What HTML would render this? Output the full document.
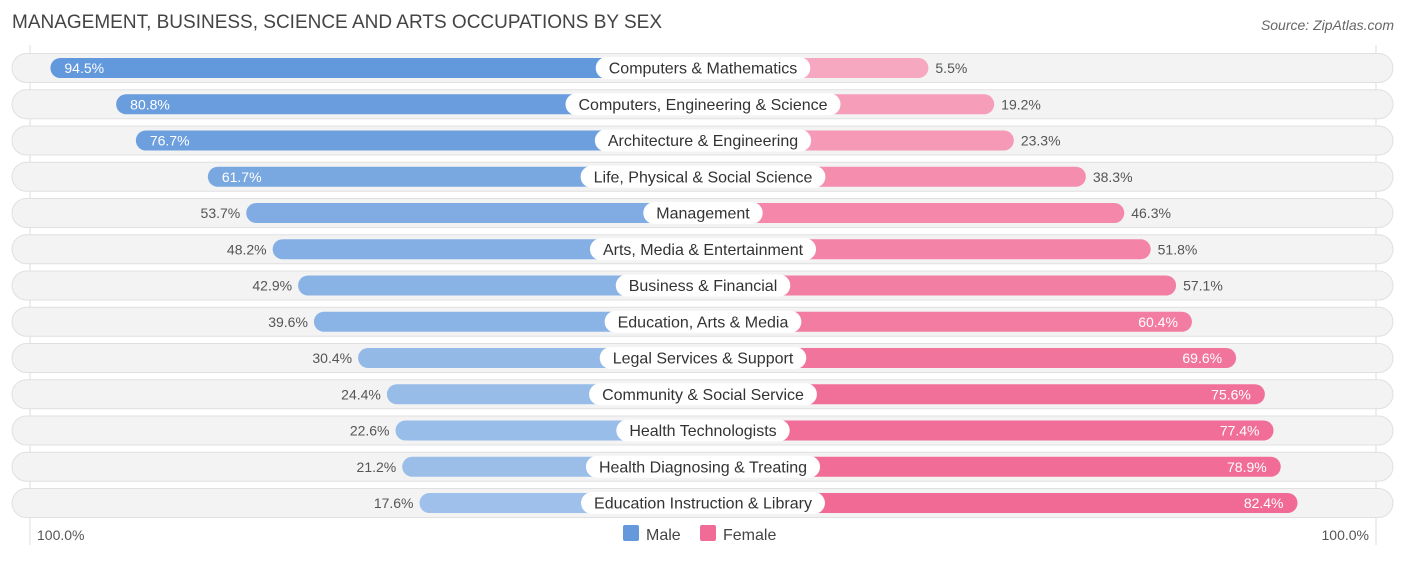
<!DOCTYPE html>
<html><head><meta charset="utf-8"><style>
body{margin:0;background:#fff;font-family:"Liberation Sans",sans-serif;}
svg text{font-family:"Liberation Sans",sans-serif;}
</style></head><body>
<svg id="chart" width="1406" height="559" xmlns="http://www.w3.org/2000/svg">
<text x="12" y="28" font-size="19" fill="#444">MANAGEMENT, BUSINESS, SCIENCE AND ARTS OCCUPATIONS BY SEX</text>
<text x="1394" y="30" font-size="14" fill="#666" text-anchor="end" font-style="italic">Source: ZipAtlas.com</text>
<line x1="30" y1="45" x2="30" y2="545" stroke="#ddd"/>
<line x1="1376" y1="45" x2="1376" y2="545" stroke="#ddd"/>
<g id="rows"></g>
<text x="37" y="540" font-size="14" fill="#555">100.0%</text>
<text x="1369" y="540" font-size="14" fill="#555" text-anchor="end">100.0%</text>
<g>
<rect x="623" y="525" width="16" height="16" rx="2" fill="#6499dc"/>
<text x="646" y="540" font-size="16" fill="#444">Male</text>
<rect x="700" y="525" width="16" height="16" rx="2" fill="#f06b96"/>
<text x="723" y="540" font-size="16" fill="#444">Female</text>
</g>
</svg>
<script>
const categories=["Computers & Mathematics","Computers, Engineering & Science","Architecture & Engineering","Life, Physical & Social Science","Management","Arts, Media & Entertainment","Business & Financial","Education, Arts & Media","Legal Services & Support","Community & Social Service","Health Technologists","Health Diagnosing & Treating","Education Instruction & Library"];
const maleValues=[94.5,80.8,76.7,61.7,53.7,48.2,42.9,39.6,30.4,24.4,22.6,21.2,17.6];
const femaleValues=[5.5,19.2,23.3,38.3,46.3,51.8,57.1,60.4,69.6,75.6,77.4,78.9,82.4];
const NS="http://www.w3.org/2000/svg";
const cx=703, maleZero=504, femaleZero=902, k=4.8, y0=68, step=36.25;
const xMale=v=>maleZero-k*v, xFemale=v=>femaleZero+k*v;
function mix(a,b,t){return "rgb("+a.map((c,i)=>Math.round(c+(b[i]-c)*t)).join(",")+")";}
const g=document.getElementById("rows");
function mk(tag,attrs){const e=document.createElementNS(NS,tag);for(const k in attrs)e.setAttribute(k,attrs[k]);return e;}
categories.forEach((c,i)=>{
 const y=y0+i*step;
 const bg=mk("rect",{x:12,y:y-14.5,width:1381,height:29,rx:14.5,fill:"#f3f3f3",stroke:"#e0e0e0"});
 
 
 g.appendChild(bg);
 const m=maleValues[i], f=femaleValues[i];
 const mx=xMale(m);
 const mb=mk("rect",{x:mx,y:y-10,width:cx-mx,height:20,rx:10,fill:mix([172,202,237],[98,152,220],Math.min(1,m/90))});
 
 
 g.appendChild(mb);
 const fx=xFemale(f);
 const fb=mk("rect",{x:cx,y:y-10,width:fx-cx,height:20,rx:10,fill:mix([248,172,196],[240,104,148],Math.min(1,f/85))});
 
 
 g.appendChild(fb);
 const mt=mk("text",{y:y+5,"font-size":14});
 if(m>=60){mt.setAttribute("x",mx+14);mt.setAttribute("fill","#fff");}
 else{mt.setAttribute("x",mx-6);mt.setAttribute("text-anchor","end");mt.setAttribute("fill","#555");}
 mt.textContent=m.toFixed(1)+"%";
 
 
 g.appendChild(mt);
 const ft=mk("text",{y:y+5,"font-size":14});
 if(f>=60){ft.setAttribute("x",fx-14);ft.setAttribute("text-anchor","end");ft.setAttribute("fill","#fff");}
 else{ft.setAttribute("x",fx+7);ft.setAttribute("fill","#555");}
 ft.textContent=f.toFixed(1)+"%";
 
 
 g.appendChild(ft);
 const lt=mk("text",{x:cx,y:y+5.5,"font-size":16,"text-anchor":"middle",fill:"#333"});
 lt.textContent=c;
 
 
 g.appendChild(lt);
 const w=lt.getComputedTextLength()+26;
 const pill=mk("rect",{x:cx-w/2,y:y-11,width:w,height:22,rx:11,fill:"#fff"});
 
 
 g.insertBefore(pill,lt);
});
</script>
</body></html>
